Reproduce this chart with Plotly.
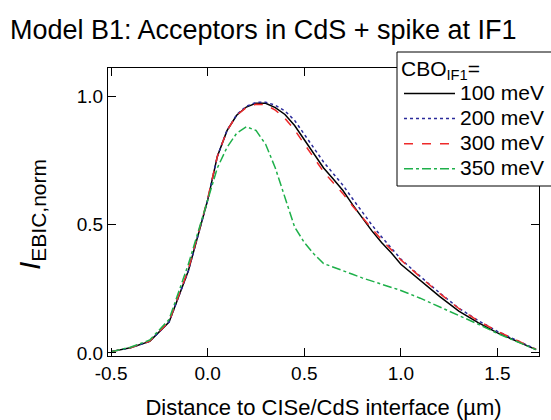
import plotly.graph_objects as go

x_vals = [-0.5, -0.4, -0.3, -0.2, -0.1, -0.05, 0.0, 0.05, 0.1, 0.15, 0.2, 0.25, 0.3, 0.35, 0.4, 0.45, 0.5,
          0.55, 0.6, 0.65, 0.7, 0.75, 0.8, 0.85, 0.9, 0.95, 1.0, 1.1, 1.2, 1.3, 1.4, 1.5, 1.6, 1.7]

cbo_100 = [0.005, 0.02, 0.045, 0.12, 0.32, 0.46, 0.595, 0.765, 0.865, 0.925, 0.957, 0.972, 0.972, 0.955, 0.928, 0.885, 0.83,
           0.772, 0.72, 0.677, 0.632, 0.577, 0.525, 0.475, 0.43, 0.39, 0.345, 0.282, 0.22, 0.163, 0.118, 0.078, 0.045, 0.013]
cbo_200 = [0.005, 0.02, 0.045, 0.12, 0.32, 0.46, 0.595, 0.765, 0.866, 0.927, 0.96, 0.975, 0.976, 0.964, 0.942, 0.905, 0.852,
           0.795, 0.743, 0.698, 0.653, 0.6, 0.548, 0.498, 0.452, 0.41, 0.365, 0.298, 0.234, 0.174, 0.126, 0.084, 0.048, 0.014]
cbo_300 = [0.005, 0.02, 0.046, 0.122, 0.325, 0.465, 0.6, 0.765, 0.865, 0.925, 0.955, 0.968, 0.966, 0.945, 0.913, 0.868, 0.812,
           0.757, 0.705, 0.662, 0.62, 0.572, 0.527, 0.482, 0.44, 0.402, 0.362, 0.296, 0.232, 0.173, 0.125, 0.084, 0.048, 0.014]
cbo_350 = [0.005, 0.022, 0.05, 0.13, 0.345, 0.47, 0.6, 0.72, 0.80, 0.855, 0.88, 0.866, 0.812, 0.72, 0.605, 0.49, 0.43,
           0.385, 0.348, 0.333, 0.32, 0.306, 0.292, 0.28, 0.268, 0.256, 0.243, 0.213, 0.18, 0.146, 0.112, 0.076, 0.043, 0.013]

series_names = ["100 meV", "200 meV", "300 meV", "350 meV"]
series_vals = [cbo_100, cbo_200, cbo_300, cbo_350]
colors = ["#000000", "#2a2a9a", "#ee2a2a", "#1eb04a"]
dashes = ["solid", "dot", "dash", "dashdot"]

x_ticks = [-0.5, 0.0, 0.5, 1.0, 1.5]
y_ticks = [0.0, 0.5, 1.0]

FONT = "Liberation Sans, Arial, sans-serif"

fig = go.Figure()
for name, vals, c, d in zip(series_names, series_vals, colors, dashes):
    fig.add_trace(go.Scatter(x=x_vals, y=vals, mode="lines",
                             name=f'<span style="font-size:21px">{name}</span>',
                             line=dict(color=c, dash=d, width=1.5)))

# plot area in px: left 108, right 539, top 68, bottom 356
L, R, T, B = 108, 539, 68, 356
W, H = 551, 420
pw, ph = R - L, B - T

def px_to_paper_x(px):
    return (px - L) / pw

def px_to_paper_y(py):
    return (B - py) / ph

fig.update_layout(
    width=W, height=H,
    margin=dict(l=L, r=W - R, t=T, b=H - B, autoexpand=False),
    paper_bgcolor="white", plot_bgcolor="white",
    font=dict(family=FONT, color="black", size=19),
    title=dict(text="Model B1: Acceptors in CdS + spike at IF1", x=10 / W, xanchor="left",
               xref="container", yref="container", y=1 - 30 / H, yanchor="middle",
               font=dict(size=27, family=FONT, color="black")),
    xaxis=dict(range=[-0.516, 1.715], tickvals=x_ticks, ticktext=[f"{v:.1f}" for v in x_ticks],
               ticks="inside", ticklen=8, tickwidth=1, tickcolor="black",
               showline=True, linecolor="black", linewidth=1, mirror="ticks",
               showgrid=False, zeroline=False, automargin=False,
               title=dict(text="Distance to CISe/CdS interface (µm)", font=dict(size=22), standoff=21),
               tickfont=dict(size=19)),
    yaxis=dict(range=[-0.012, 1.109], tickvals=y_ticks, ticktext=[f"{v:.1f}" for v in y_ticks],
               ticks="inside", ticklen=8, tickwidth=1, tickcolor="black",
               showline=True, linecolor="black", linewidth=1, mirror="ticks",
               showgrid=False, zeroline=False, automargin=False,
               tickfont=dict(size=19)),
    annotations=[dict(text="<i>I</i><sub>EBIC,norm</sub>", textangle=-90,
                      xref="paper", yref="paper", x=px_to_paper_x(31), y=px_to_paper_y(215),
                      xanchor="center", yanchor="middle", showarrow=False,
                      font=dict(size=30, family=FONT, color="black"))],
    legend=dict(x=px_to_paper_x(399), y=px_to_paper_y(46), xanchor="left", yanchor="top",
                bgcolor="rgba(0,0,0,0)", borderwidth=0,
                font=dict(size=17, family=FONT),
                title=dict(text='<span style="font-size:21px">CBO<sub>IF1</sub>=</span>', font=dict(size=23)),
                tracegroupgap=0, itemwidth=51),
    shapes=[dict(type="rect", xref="paper", yref="paper",
                 x0=px_to_paper_x(397), x1=px_to_paper_x(600),
                 y0=px_to_paper_y(186), y1=px_to_paper_y(52),
                 line=dict(color="black", width=1), fillcolor="white", layer="above")],
)

fig.write_html("out.html")
